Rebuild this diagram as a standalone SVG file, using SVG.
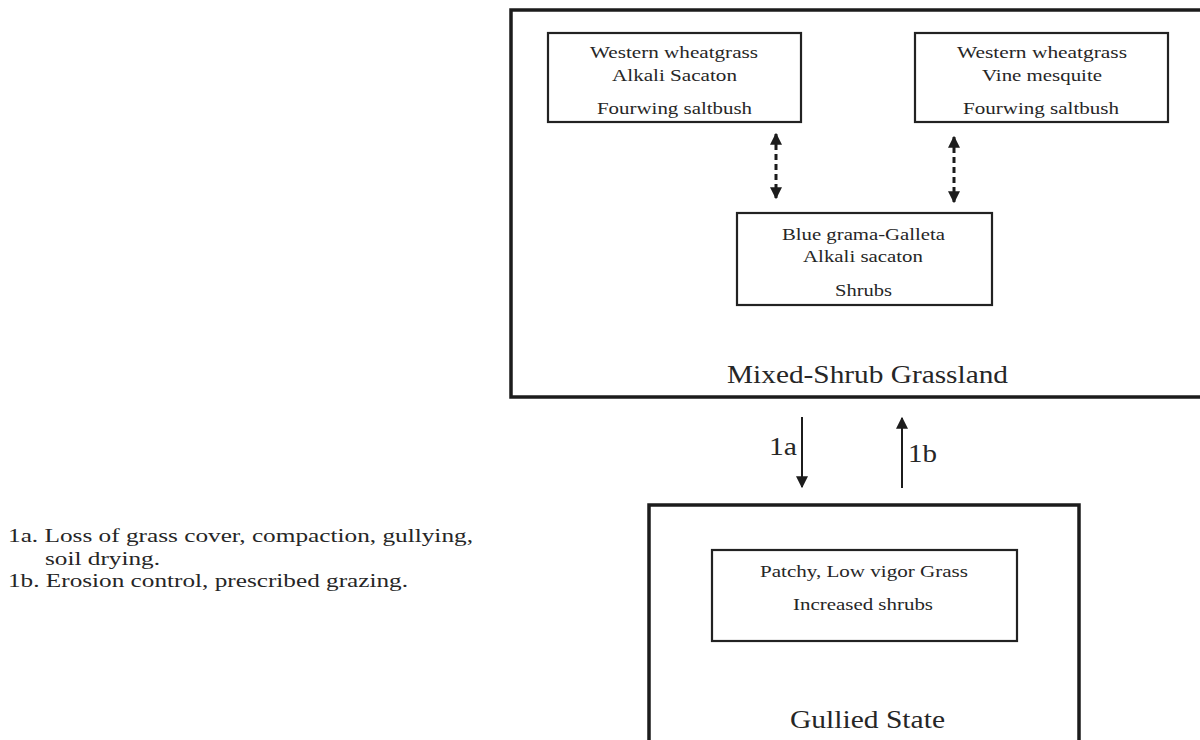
<svg xmlns="http://www.w3.org/2000/svg" width="1200" height="740" viewBox="0 0 1200 740">
  <style>
    text { font-family: "Liberation Serif", "Times New Roman", serif; fill: #262626; }
    .s { font-size: 17px; }
    .m { font-size: 18px; }
    .l { font-size: 26px; }
    .outer { fill: none; stroke: #1c1c1c; stroke-width: 3.5; }
    .inner { fill: #fff; stroke: #222; stroke-width: 2.2; }
    .solid { fill: none; stroke: #1c1c1c; stroke-width: 2; }
    .dash { fill: none; stroke: #1c1c1c; stroke-width: 3; stroke-dasharray: 6 4; }
  </style>
  <defs>
    <marker id="ah" viewBox="0 0 10 10" refX="9" refY="5" markerUnits="userSpaceOnUse" markerWidth="12" markerHeight="12" orient="auto-start-reverse">
      <path d="M0,0 L10,5 L0,10 z" fill="#1c1c1c"/>
    </marker>
  </defs>
  <rect width="1200" height="740" fill="#fff"/>

  <g id="mixed-shrub-grassland">
    <rect class="outer" x="511" y="10" width="720" height="387"/>
    <text class="l" x="727" y="383" textLength="281" lengthAdjust="spacingAndGlyphs">Mixed-Shrub Grassland</text>
  </g>

  <g id="community-a">
    <rect class="inner" x="548" y="33" width="253" height="89"/>
    <text class="s" x="590" y="58" textLength="168" lengthAdjust="spacingAndGlyphs">Western wheatgrass</text>
    <text class="s" x="612" y="81" textLength="125" lengthAdjust="spacingAndGlyphs">Alkali Sacaton</text>
    <text class="s" x="597" y="114" textLength="155" lengthAdjust="spacingAndGlyphs">Fourwing saltbush</text>
  </g>

  <g id="community-b">
    <rect class="inner" x="915" y="33" width="253" height="89"/>
    <text class="s" x="957" y="58" textLength="170" lengthAdjust="spacingAndGlyphs">Western wheatgrass</text>
    <text class="s" x="982" y="81" textLength="120" lengthAdjust="spacingAndGlyphs">Vine mesquite</text>
    <text class="s" x="963" y="114" textLength="156" lengthAdjust="spacingAndGlyphs">Fourwing saltbush</text>
  </g>

  <g id="community-c">
    <rect class="inner" x="737" y="213" width="255" height="92"/>
    <text class="s" x="782" y="240" textLength="163" lengthAdjust="spacingAndGlyphs">Blue grama-Galleta</text>
    <text class="s" x="803" y="262" textLength="120" lengthAdjust="spacingAndGlyphs">Alkali sacaton</text>
    <text class="s" x="835" y="296" textLength="57" lengthAdjust="spacingAndGlyphs">Shrubs</text>
  </g>

  <g id="gullied-state">
    <rect class="outer" x="649" y="505" width="430" height="260"/>
    <text class="l" x="790" y="728" textLength="155" lengthAdjust="spacingAndGlyphs">Gullied State</text>
  </g>

  <g id="gullied-community">
    <rect class="inner" x="712" y="550" width="305" height="91"/>
    <text class="s" x="760" y="577" textLength="208" lengthAdjust="spacingAndGlyphs">Patchy, Low vigor Grass</text>
    <text class="s" x="793" y="610" textLength="140" lengthAdjust="spacingAndGlyphs">Increased shrubs</text>
  </g>

  <g id="connectors">
    <line class="dash" x1="776" y1="134" x2="776" y2="198" marker-start="url(#ah)" marker-end="url(#ah)"/>
    <line class="dash" x1="954" y1="137" x2="954" y2="202" marker-start="url(#ah)" marker-end="url(#ah)"/>
    <line class="solid" x1="802" y1="417" x2="802" y2="487" marker-end="url(#ah)"/>
    <line class="solid" x1="902" y1="488" x2="902" y2="418" marker-end="url(#ah)"/>
    <text class="l" x="769" y="455" textLength="28" lengthAdjust="spacingAndGlyphs">1a</text>
    <text class="l" x="908" y="462" textLength="29" lengthAdjust="spacingAndGlyphs">1b</text>
  </g>

  <g id="legend">
    <text class="m" x="8" y="542" textLength="465" lengthAdjust="spacingAndGlyphs">1a. Loss of grass cover, compaction, gullying,</text>
    <text class="m" x="45" y="565" textLength="115" lengthAdjust="spacingAndGlyphs">soil drying.</text>
    <text class="m" x="8" y="587" textLength="400" lengthAdjust="spacingAndGlyphs">1b. Erosion control, prescribed grazing.</text>
  </g>
</svg>
